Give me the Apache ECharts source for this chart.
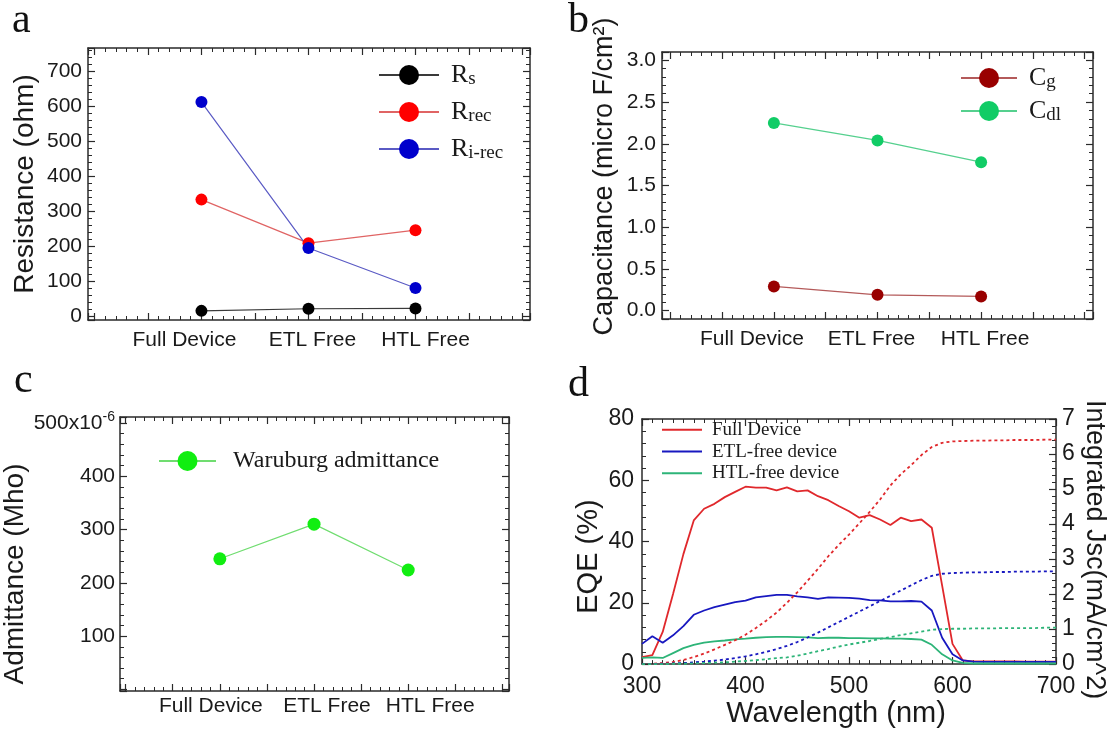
<!DOCTYPE html>
<html><head><meta charset="utf-8">
<script src="https://cdn.jsdelivr.net/npm/echarts@6/dist/echarts.min.js"></script>
<style>html,body{margin:0;padding:0;background:#fff}#c{width:1110px;height:729px}</style>
</head><body><div id="c"></div>
<script>
// ---------- data ----------
const categories = ['Full Device', 'ETL Free', 'HTL Free'];
const catX = [1, 2, 3];
// panel a : resistance (ohm)
const Rs = [16, 22, 23];
const Rrec = [333, 209, 246];
const Rirec = [611, 195, 81];
// panel b : capacitance (micro F/cm^2)
const Cg = [0.29, 0.19, 0.17];
const Cdl = [2.25, 2.04, 1.78];
// panel c : Warburg admittance (x1e-6 Mho)
const Warburg = [245, 310, 224];
// panel d : EQE (%) and integrated Jsc (mA/cm^2)
const wavelength = [300,310,320,330,340,350,360,370,380,390,400,410,420,430,440,450,460,470,480,490,500,510,520,530,540,550,560,570,580,590,600,610,620,630,640,650,660,670,680,690,700];
const eqeFull = [2.3,2.9,10.5,22.9,35.9,46.9,50.7,52.3,54.5,56.2,57.9,57.6,57.6,56.7,57.7,56.4,56.7,54.8,53.5,51.6,49.9,47.8,48.6,47.2,45.4,47.8,46.7,47.2,44.5,25.6,6.6,1.2,0.9,0.9,0.9,0.9,0.9,0.8,0.8,0.8,0.8];
const eqeETL = [6.6,9.1,7.0,9.4,12.4,16.1,17.5,18.6,19.4,20.2,20.7,21.8,22.2,22.6,22.6,22.1,21.8,21.3,21.8,21.7,21.6,21.4,20.9,20.8,20.5,20.5,20.6,20.4,17.5,8.6,3.2,1.2,0.8,0.7,0.7,0.7,0.7,0.7,0.7,0.7,0.7];
const eqeHTL = [2.0,2.2,2.0,3.6,5.2,6.3,7.0,7.4,7.7,8.1,8.3,8.6,8.8,8.9,8.9,8.8,8.7,8.5,8.6,8.6,8.5,8.5,8.4,8.4,8.3,8.3,8.2,8.0,6.3,3.2,1.2,0.4,0.2,0.2,0.2,0.2,0.2,0.2,0.2,0.2,0.2];
const jscFull = [0,0.01,0.03,0.06,0.12,0.2,0.3,0.42,0.55,0.68,0.84,1.03,1.24,1.47,1.75,2.05,2.38,2.72,3.08,3.4,3.7,4.02,4.35,4.7,5.1,5.42,5.68,5.97,6.2,6.32,6.36,6.37,6.38,6.38,6.39,6.39,6.4,6.4,6.4,6.41,6.41];
const jscETL = [0,0,0.01,0.02,0.03,0.05,0.07,0.1,0.13,0.17,0.22,0.28,0.35,0.43,0.52,0.63,0.76,0.9,1.05,1.2,1.35,1.5,1.65,1.8,1.95,2.1,2.25,2.4,2.52,2.58,2.6,2.61,2.62,2.62,2.63,2.63,2.64,2.64,2.64,2.65,2.65];
const jscHTL = [0,0,0,0.01,0.01,0.02,0.03,0.04,0.05,0.07,0.09,0.11,0.14,0.17,0.19,0.24,0.3,0.37,0.43,0.5,0.56,0.61,0.66,0.72,0.77,0.83,0.88,0.93,0.98,1.0,1.01,1.01,1.02,1.02,1.02,1.03,1.03,1.03,1.03,1.04,1.04];

// ---------- styling ----------
const SANS = "'Liberation Sans', Arial, sans-serif";
const SERIF = "'Liberation Serif', 'Times New Roman', serif";
const AX = '#2a2a2a';
const TXT = '#1a1a1a';

function axis(extra) {
  return Object.assign({
    type: 'value',
    axisLine: {show: true, onZero: false, lineStyle: {color: AX, width: 1.5}},
    axisTick: {show: true, inside: true, length: 7, lineStyle: {color: AX, width: 1.2}},
    minorTick: {show: true, splitNumber: 5, length: 4, lineStyle: {color: AX, width: 1}},
    splitLine: {show: false},
    axisLabel: {show: false}
  }, extra);
}
function isMult(v, step) { return Math.abs(v / step - Math.round(v / step)) < 1e-6; }
function catLabel(shifts) {
  const rich = {};
  shifts.forEach((s, i) => {
    rich['c' + i] = {fontFamily: SANS, fontSize: 21, color: TXT,
      padding: s < 0 ? [0, -2 * s, 0, 0] : [0, 0, 0, 2 * s]};
  });
  return {
    show: true, margin: 10, fontFamily: SANS, fontSize: 21, color: TXT,
    formatter: v => {
      const i = catX.findIndex(x => Math.abs(x - v) < 1e-6);
      return i < 0 ? '' : '{c' + i + '|' + categories[i] + '}';
    },
    rich: rich
  };
}
function pts(xs, ys) { return xs.map((x, i) => [x, ys[i]]); }

const grids = [
  {left: 88, top: 48, width: 442, height: 272},
  {left: 662, top: 52, width: 431, height: 267},
  {left: 120, top: 417, width: 389, height: 274},
  {left: 642, top: 419, width: 414, height: 246}
];

const xAxis = [], yAxis = [];
// panel a
xAxis.push(axis({gridIndex: 0, position: 'bottom', min: -0.06, max: 4.07, splitNumber: 8, axisLabel: catLabel([-17, 4, 10])}));
xAxis.push(axis({gridIndex: 0, position: 'top', min: -0.06, max: 4.07, splitNumber: 8}));
yAxis.push(axis({gridIndex: 0, position: 'left', min: -10, max: 765, splitNumber: 8,
  name: 'Resistance (ohm)', nameLocation: 'middle', nameGap: 49,
  nameTextStyle: {fontFamily: SANS, fontSize: 28, color: TXT},
  axisLabel: {show: true, margin: 6, fontFamily: SANS, fontSize: 21, color: TXT,
    formatter: v => (v >= 0 && isMult(v, 100)) ? String(Math.round(v)) : ''}}));
yAxis.push(axis({gridIndex: 0, position: 'right', min: -10, max: 765, splitNumber: 8}));
// panel b
xAxis.push(axis({gridIndex: 1, position: 'bottom', min: -0.08, max: 4.08, splitNumber: 8, axisLabel: catLabel([-22, -6, 4])}));
xAxis.push(axis({gridIndex: 1, position: 'top', min: -0.08, max: 4.08, splitNumber: 8}));
yAxis.push(axis({gridIndex: 1, position: 'left', min: -0.1, max: 3.1, splitNumber: 6,
  name: 'Capacitance (micro F/cm²)', nameLocation: 'middle', nameGap: 44,
  nameTextStyle: {fontFamily: SANS, fontSize: 27, color: TXT, padding: [0, 0, 0, 18]},
  axisLabel: {show: true, margin: 6, fontFamily: SANS, fontSize: 21, color: TXT,
    formatter: v => (v >= -1e-9 && isMult(v, 0.5)) ? Math.abs(v).toFixed(1) : ''}}));
yAxis.push(axis({gridIndex: 1, position: 'right', min: -0.1, max: 3.1, splitNumber: 6}));
// panel c
xAxis.push(axis({gridIndex: 2, position: 'bottom', min: -0.06, max: 4.07, splitNumber: 8, axisLabel: Object.assign(catLabel([-9, 13, 22]), {margin: 5})}));
xAxis.push(axis({gridIndex: 2, position: 'top', min: -0.06, max: 4.07, splitNumber: 8}));
yAxis.push(axis({gridIndex: 2, position: 'left', min: -3, max: 511, splitNumber: 5,
  name: 'Admittance (Mho)', nameLocation: 'middle', nameGap: 63,
  nameTextStyle: {fontFamily: SANS, fontSize: 28, color: TXT, padding: [0, 40, 0, 0]},
  axisLabel: {show: true, margin: 5, fontFamily: SANS, fontSize: 21, color: TXT, lineHeight: 26,
    formatter: v => (v > 0 && isMult(v, 100)) ? (Math.round(v) === 500 ? '500x10{sup|-6}' : String(Math.round(v))) : '',
    rich: {sup: {fontFamily: SANS, fontSize: 14, color: TXT, verticalAlign: 'top', lineHeight: 14}}}}));
yAxis.push(axis({gridIndex: 2, position: 'right', min: -3, max: 511, splitNumber: 5}));
// panel d
xAxis.push(axis({gridIndex: 3, position: 'bottom', min: 300, max: 700, interval: 100,
  minorTick: {show: true, splitNumber: 10, length: 4, lineStyle: {color: AX, width: 1}},
  name: 'Wavelength (nm)', nameLocation: 'middle', nameGap: 34,
  nameTextStyle: {fontFamily: SANS, fontSize: 29, color: TXT, padding: [0, 26, 0, 0]},
  axisLabel: {show: true, margin: 11, fontFamily: SANS, fontSize: 23, color: TXT}}));
xAxis.push(axis({gridIndex: 3, position: 'top', min: 300, max: 700, interval: 100,
  minorTick: {show: true, splitNumber: 10, length: 4, lineStyle: {color: AX, width: 1}}}));
yAxis.push(axis({gridIndex: 3, position: 'left', min: 0, max: 80, interval: 20,
  name: 'EQE (%)', nameLocation: 'middle', nameGap: 39,
  nameTextStyle: {fontFamily: SANS, fontSize: 29, color: TXT, padding: [0, 30, 0, 0]},
  axisLabel: {show: true, margin: 8, fontFamily: SANS, fontSize: 23, color: TXT}}));
yAxis.push(axis({gridIndex: 3, position: 'right', min: 0, max: 7, interval: 1,
  name: 'Integrated Jsc(mA/cm^2)', nameLocation: 'middle', nameGap: 25, nameRotate: -90,
  nameTextStyle: {fontFamily: SANS, fontSize: 27, color: TXT, padding: [0, 0, 0, 16]},
  axisLabel: {show: true, margin: 6, fontFamily: SANS, fontSize: 23, color: TXT}}));

function markerSeries(name, xi, yi, ys, mColor, lColor, size) {
  return {name: name, type: 'line', xAxisIndex: xi, yAxisIndex: yi, data: pts(catX, ys),
    symbol: 'circle', symbolSize: size, showSymbol: true, z: 3,
    itemStyle: {color: mColor}, lineStyle: {color: lColor, width: 1.2}, emphasis: {disabled: true}};
}
function curve(name, xi, yi, ys, color, dotted) {
  return {name: name, type: 'line', xAxisIndex: xi, yAxisIndex: yi, data: pts(wavelength, ys),
    symbol: 'none', showSymbol: false, itemStyle: {color: color},
    lineStyle: {color: color, width: 1.8, type: dotted ? [3, 3] : 'solid'},
    emphasis: {disabled: true}};
}

const series = [
  markerSeries('Rs', 0, 0, Rs, '#000000', '#3a3a3a', 12),
  markerSeries('Rrec', 0, 0, Rrec, '#ff0000', '#e06464', 12),
  markerSeries('Ri-rec', 0, 0, Rirec, '#0000cc', '#5a5ac4', 12),
  markerSeries('Cg', 2, 2, Cg, '#990000', '#b45a5a', 12),
  markerSeries('Cdl', 2, 2, Cdl, '#11cc66', '#55d08e', 12),
  markerSeries('Waruburg admittance', 4, 4, Warburg, '#11ee11', '#70dd70', 13),
  curve('Full Device', 6, 6, eqeFull, '#e0282c', false),
  curve('ETL-free device', 6, 6, eqeETL, '#1818c0', false),
  curve('HTL-free device', 6, 6, eqeHTL, '#2db478', false),
  curve('Full Device Jsc', 6, 7, jscFull, '#e0282c', true),
  curve('ETL-free device Jsc', 6, 7, jscETL, '#1818c0', true),
  curve('HTL-free device Jsc', 6, 7, jscHTL, '#2db478', true)
];

const subNames = {'Rs': 'R{s|s}', 'Rrec': 'R{s|rec}', 'Ri-rec': 'R{s|i-rec}', 'Cg': 'C{s|g}', 'Cdl': 'C{s|dl}'};
function subLegend(names, left, top, itemWidth, gap) {
  return {data: names, orient: 'vertical', left: left, top: top, padding: 0,
    itemWidth: itemWidth, itemHeight: 25, itemGap: gap, selectedMode: false,
    formatter: n => subNames[n] || n,
    textStyle: {fontFamily: SERIF, fontSize: 26, color: TXT, lineHeight: 28, padding: [0, 0, 0, 7],
      rich: {s: {fontFamily: SERIF, fontSize: 19, color: TXT, verticalAlign: 'bottom', lineHeight: 17}}}};
}
const legend = [
  subLegend(['Rs', 'Rrec', 'Ri-rec'], 378, 61, 60, 9),
  subLegend(['Cg', 'Cdl'], 960, 64, 56, 5),
  {data: ['Waruburg admittance'], left: 158, top: 449, padding: 0, itemWidth: 57, itemHeight: 25, selectedMode: false,
    textStyle: {fontFamily: SERIF, fontSize: 24, color: TXT, padding: [0, 0, 0, 12]}},
  {data: ['Full Device', 'ETL-free device', 'HTL-free device'], orient: 'vertical', left: 662, top: 419, padding: 0,
    icon: 'rect', itemWidth: 40, itemHeight: 2, itemGap: 0, selectedMode: false,
    textStyle: {fontFamily: SERIF, fontSize: 19, color: TXT, lineHeight: 21.7, padding: [0, 0, 0, 5]}}
];

const letters = [['a', 12, 0], ['b', 568, 0], ['c', 14, 360], ['d', 568, 364]];
const graphic = letters.map(l => ({type: 'text', left: l[1], top: l[2], z: 10,
  style: {text: l[0], fontFamily: SERIF, fontSize: 42, fill: '#111'}}));

const chart = echarts.init(document.getElementById('c'), null, {renderer: 'canvas'});
chart.setOption({
  animation: false,
  backgroundColor: '#ffffff',
  grid: grids,
  xAxis: xAxis,
  yAxis: yAxis,
  legend: legend,
  series: series,
  graphic: graphic
});
</script>
</body></html>
